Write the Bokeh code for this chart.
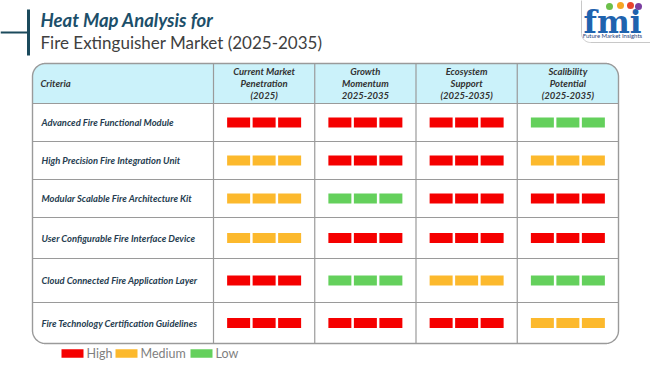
import numpy as np
from bokeh.plotting import figure
from bokeh.models import Range1d
from bokeh.core.properties import value
from bokeh.embed import file_html
from bokeh.resources import INLINE

# ---------------- data ----------------
title_line1 = "Heat Map Analysis for"
title_line2 = "Fire Extinguisher Market (2025-2035)"
header_criteria = "Criteria"
criteria = [
    "Advanced Fire Functional Module",
    "High Precision Fire Integration Unit",
    "Modular Scalable Fire Architecture Kit",
    "User Configurable Fire Interface Device",
    "Cloud Connected Fire Application Layer",
    "Fire Technology Certification Guidelines",
]
column_headers = [
    "Current Market\nPenetration\n(2025)",
    "Growth\nMomentum\n2025-2035",
    "Ecosystem\nSupport\n(2025-2035)",
    "Scalibility\nPotential\n(2025-2035)",
]
current_market_penetration = ["High", "Medium", "Medium", "Medium", "High", "High"]
growth_momentum = ["High", "High", "Low", "High", "Low", "High"]
ecosystem_support = ["High", "High", "High", "High", "Medium", "High"]
scalability_potential = ["Low", "Medium", "High", "High", "Low", "Medium"]
levels = ["High", "Medium", "Low"]

# ---------------- style / layout ----------------
LEVEL_COLORS = {"High": "#f50000", "Medium": "#fcb92d", "Low": "#64d05c"}
FONT = value("Lato")
GRID_COLOR = "#9a9a9a"
TX0, TX1, TY0, TY1 = 32, 618, 63, 343
HEADER_BOTTOM = 103
FIRST_COL = 213
ROW_EDGES = [103, 141, 179, 217, 258, 302, 343]
RADIUS = 13

p = figure(width=650, height=365, x_range=Range1d(0, 650), y_range=Range1d(365, 0),
           x_axis_type=None, y_axis_type=None, output_backend="svg",
           toolbar_location=None, min_border=0,
           background_fill_color="white", border_fill_color="white")
p.outline_line_color = None


def rrect(x0, y0, x1, y1, r, corners=(True, True, True, True)):
    xs, ys = [], []
    specs = [((x0 + r, y0 + r), 180, 270, (x0, y0)),
             ((x1 - r, y0 + r), 270, 360, (x1, y0)),
             ((x1 - r, y1 - r), 0, 90, (x1, y1)),
             ((x0 + r, y1 - r), 90, 180, (x0, y1))]
    for (c, a0, a1, pt), rounded in zip(specs, corners):
        if rounded:
            t = np.radians(np.linspace(a0, a1, 16))
            xs += list(c[0] + r * np.cos(t))
            ys += list(c[1] + r * np.sin(t))
        else:
            xs.append(pt[0]); ys.append(pt[1])
    return xs, ys


# ---------------- title ----------------
p.line([0, 28], [32, 32], line_color="#1b4a5c", line_width=2)
p.line([28, 28], [9, 55], line_color="#1b4a5c", line_width=3)
p.text(x=[40], y=[19], text=[title_line1], text_font=FONT, text_font_style="bold italic",
       text_font_size="18.5px", text_color="#1c4f6a", text_baseline="middle")
p.text(x=[40], y=[41.5], text=[title_line2], text_font=FONT, text_font_size="17px",
       text_color="#404040", text_baseline="middle")

# ---------------- logo ----------------
lx, ly = rrect(581, -20, 670, 42, 9)
p.patch(lx, ly, fill_color="white", line_color="#c8c8c8", line_width=1)
p.text(x=[612], y=[21], text=["fmi"], text_font=value("DejaVu Serif"), text_font_style="bold",
       text_font_size="31px", text_color="#1f63ae", text_align="center", text_baseline="middle")
p.scatter(x=[609, 620, 630, 638], y=[6, 5, 5, 6], size=7,
          fill_color=["#6cc04a", "#f6a623", "#e8452c", "#7b3fa0"], line_color=None)
p.text(x=[612], y=[34.5], text=["Future Market Insights"], text_font=FONT,
       text_font_size="6px", text_color="#1f3f7a", text_align="center", text_baseline="middle")

# ---------------- table ----------------
hx, hy = rrect(TX0, TY0, TX1, HEADER_BOTTOM, RADIUS, corners=(True, True, False, False))
p.patch(hx, hy, fill_color="#cbf2fa", line_color=None)

col_edges = np.linspace(FIRST_COL, TX1, len(column_headers) + 1)
for y in ROW_EDGES[:-1]:
    p.line([TX0, TX1], [y, y], line_color=GRID_COLOR, line_width=1.2)
for x in col_edges[:-1]:
    p.line([x, x], [TY0, TY1], line_color=GRID_COLOR, line_width=1.2)
ox, oy = rrect(TX0, TY0, TX1, TY1, RADIUS)
p.patch(ox, oy, fill_color=None, line_color=GRID_COLOR, line_width=1.4)

# header texts
p.text(x=[40], y=[(TY0 + HEADER_BOTTOM) / 2], text=[header_criteria], text_font=FONT,
       text_font_style="bold italic", text_font_size="9.5px", text_color="#333333",
       text_baseline="middle")
hxs, hys, hts = [], [], []
for j, h in enumerate(column_headers):
    cx = (col_edges[j] + col_edges[j + 1]) / 2
    lines = h.split("\n")
    for k, ln in enumerate(lines):
        hxs.append(cx)
        hys.append((TY0 + HEADER_BOTTOM) / 2 + (k - (len(lines) - 1) / 2) * 12)
        hts.append(ln)
p.text(x=hxs, y=hys, text=hts, text_font=FONT, text_font_style="bold italic",
       text_font_size="9.5px", text_color="#333333", text_align="center", text_baseline="middle")

# row labels
row_centers = [(ROW_EDGES[i] + ROW_EDGES[i + 1]) / 2 for i in range(len(criteria))]
p.text(x=[41] * len(criteria), y=row_centers, text=criteria, text_font=FONT,
       text_font_style="bold italic", text_font_size="9.4px", text_color="#263d50",
       text_baseline="middle")

# heat bars
ratings = [current_market_penetration, growth_momentum, ecosystem_support, scalability_potential]
bx, by, bc = [], [], []
for j, col in enumerate(ratings):
    cx = (col_edges[j] + col_edges[j + 1]) / 2
    for i, lvl in enumerate(col):
        for k in (-1, 0, 1):
            bx.append(cx + k * 25.5)
            by.append(row_centers[i])
            bc.append(LEVEL_COLORS[lvl])
p.rect(x=bx, y=by, width=23, height=10, fill_color=bc, line_color=None)

# ---------------- legend ----------------
legend_x = [61, 115, 190]
p.rect(x=[x + 11 for x in legend_x], y=[353] * 3, width=22, height=8.5,
       fill_color=[LEVEL_COLORS[l] for l in levels], line_color=None)
p.text(x=[x + 25 for x in legend_x], y=[353] * 3, text=levels, text_font=FONT,
       text_font_size="12.5px", text_color="#7f7f7f", text_baseline="middle")

open("out.html", "w").write(file_html(p, INLINE))
